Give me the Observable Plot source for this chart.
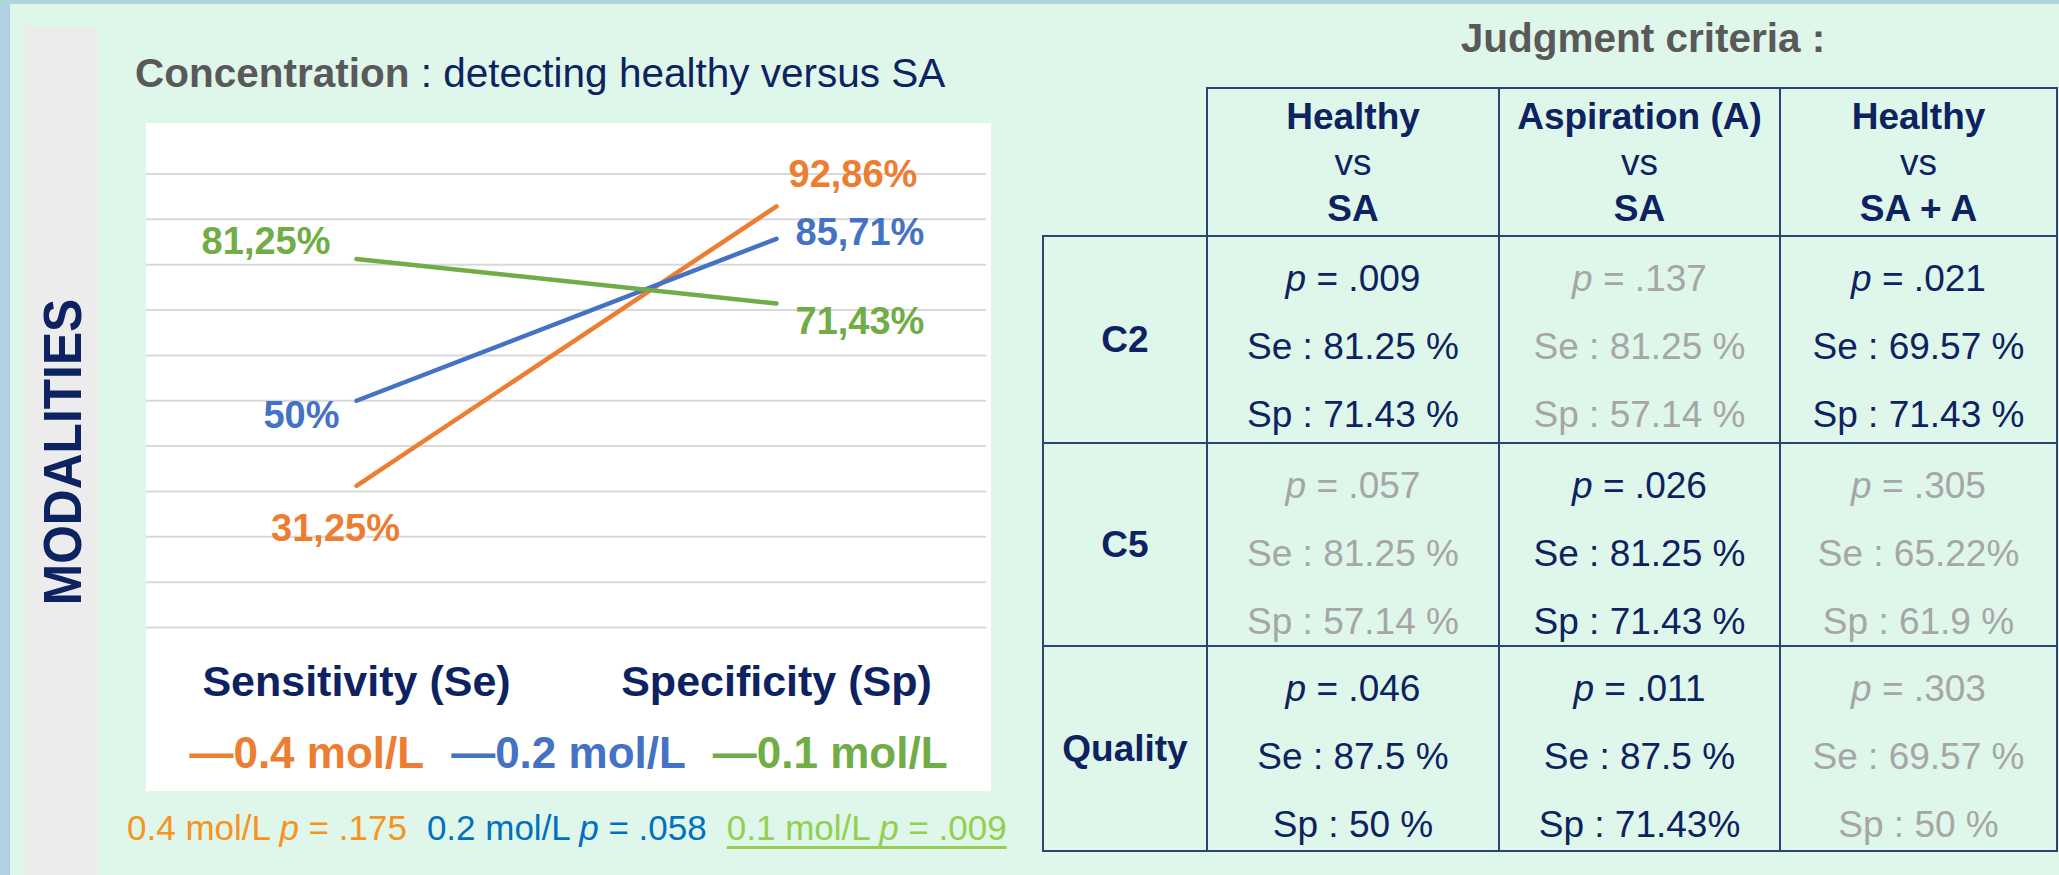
<!DOCTYPE html>
<html><head><meta charset="utf-8">
<script src="https://cdn.jsdelivr.net/npm/d3@7"></script>
<script src="https://cdn.jsdelivr.net/npm/@observablehq/plot@0.6"></script>
<style>
html,body{margin:0;padding:0;}
body{width:2059px;height:875px;background:#dff6ea;position:relative;overflow:hidden;font-family:"Liberation Sans",Arial,sans-serif;color:#0d2260;}
.abs{position:absolute;}
#topband{left:0;top:0;width:2059px;height:3px;background:#b0d0e4;border-bottom:1px solid #a6e3bd;}
#leftband{left:0;top:0;width:10px;height:875px;background:#b0d0e4;}
#greybar{left:25px;top:27px;width:73px;height:848px;background:#ececec;}
#modalities{left:62px;top:452px;font-size:54px;font-weight:bold;line-height:54px;white-space:nowrap;color:#0d2260;transform:translate(-50%,-50%) rotate(-90deg) scale(0.92,1);}
#title{left:135px;top:53px;font-size:40.5px;line-height:40px;white-space:nowrap;color:#0d2260;}
#title b{color:#595959;}
#whitebox{left:146px;top:123px;width:845px;height:668px;background:#fff;}
#chart{position:absolute;left:0;top:0;}
#chart g[aria-label="x-axis tick label"] text, #chart g[aria-label="x-axis"] text{font-size:43px;font-weight:bold;fill:#0d2260;}
#legend{position:absolute;left:0;top:605px;width:845px;display:flex;justify-content:center;gap:27px;font-size:44px;font-weight:bold;line-height:50px;white-space:nowrap;}
#pline{left:127px;top:810px;font-size:35px;line-height:35px;white-space:nowrap;display:flex;gap:20px;}
#pline .sig{text-decoration:underline;text-decoration-thickness:3px;text-underline-offset:6px;text-decoration-skip-ink:none;}
#judg{left:1343px;top:18px;width:600px;text-align:center;font-size:40.5px;line-height:40px;font-weight:bold;color:#595959;}
.cell{position:absolute;box-sizing:border-box;border:2.5px solid #2b4473;text-align:center;font-size:37px;}
.hdr{padding-top:5px;line-height:46px;}
.dat{padding-top:8px;line-height:68px;}
.lab{display:flex;align-items:center;justify-content:center;font-weight:bold;}
.grey{color:#a6a6a6;}
</style></head><body>
<div id="leftband" class="abs"></div>
<div id="topband" class="abs"></div>
<div id="greybar" class="abs"></div>
<div id="modalities" class="abs">MODALITIES</div>
<div id="title" class="abs"><b>Concentration</b> : detecting healthy versus SA</div>
<div id="whitebox" class="abs"><div id="chart"></div><div id="legend"></div></div>
<div id="pline" class="abs"></div>
<div id="judg" class="abs">Judgment criteria :</div>
<div id="table"></div>
<script>
// ---- chart data ----
const series = ["0.4 mol/L", "0.2 mol/L", "0.1 mol/L"];
const metrics = ["Sensitivity (Se)", "Specificity (Sp)"];
const sensitivity = [31.25, 50, 81.25];
const specificity = [92.86, 85.71, 71.43];
const seriesColors = ["#ED7D31", "#4472C4", "#70AD47"];

// ---- concentration p-values (below chart) ----
const concPValues = [".175", ".058", ".009"];
const concTextColors = ["#F7931E", "#0070C0", "#92D050"];

// ---- judgment criteria table ----
const criteriaTop = ["Healthy", "Aspiration (A)", "Healthy"];
const criteriaBottom = ["SA", "SA", "SA + A"];
const modalities = ["C2", "C5", "Quality"];
const pValues = [[".009", ".137", ".021"], [".057", ".026", ".305"], [".046", ".011", ".303"]];
const seValues = [["81.25 %", "81.25 %", "69.57 %"], ["81.25 %", "81.25 %", "65.22%"], ["87.5 %", "87.5 %", "69.57 %"]];
const spValues = [["71.43 %", "57.14 %", "71.43 %"], ["57.14 %", "71.43 %", "61.9 %"], ["50 %", "71.43%", "50 %"]];

// ---- chart ----
const rows = series.flatMap((s, i) => [
  {series: s, metric: metrics[0], value: sensitivity[i]},
  {series: s, metric: metrics[1], value: specificity[i]}
]);
const fmt = v => String(v).replace(".", ",") + "%";
// label placement styling (offsets in px), keyed by series|metric
const labelStyle = {
  "0.4 mol/L|Specificity (Sp)": {anchor: "start", dx: 12, dy: -32},
  "0.2 mol/L|Specificity (Sp)": {anchor: "start", dx: 19, dy: -6},
  "0.1 mol/L|Specificity (Sp)": {anchor: "start", dx: 19, dy: 18},
  "0.1 mol/L|Sensitivity (Se)": {anchor: "end", dx: -26, dy: -17},
  "0.2 mol/L|Sensitivity (Se)": {anchor: "end", dx: -17, dy: 15},
  "0.4 mol/L|Sensitivity (Se)": {anchor: "middle", dx: -21, dy: 43}
};
const labelMarks = rows.map(r => {
  const st = labelStyle[r.series + "|" + r.metric];
  return Plot.text([r], {x: "metric", y: "value", text: d => fmt(d.value), fill: "series",
    fontSize: 38, fontWeight: "bold", textAnchor: st.anchor, dx: st.dx, dy: st.dy});
});

const chart = Plot.plot({
  width: 845, height: 610,
  marginLeft: 0, marginRight: 5, marginTop: 50.5, marginBottom: 106,
  style: {background: "white", fontFamily: "'Liberation Sans', Arial, sans-serif", color: "#0d2260", overflow: "visible"},
  x: {type: "point", domain: metrics, padding: 0.5, tickSize: 0, tickPadding: 38, label: null},
  y: {domain: [0, 100], axis: null},
  color: {domain: series, range: seriesColors},
  marks: [
    Plot.ruleY(d3.ticks(0, 100, 10), {stroke: "#d9d9d9", strokeWidth: 2}),
    Plot.line(rows, {x: "metric", y: "value", z: "series", stroke: "series", strokeWidth: 4.5, strokeLinecap: "round"}),
    ...labelMarks
  ]
});
document.getElementById("chart").appendChild(chart);

// legend
const legend = document.getElementById("legend");
series.forEach((s, i) => {
  const sp = document.createElement("span");
  sp.style.color = seriesColors[i];
  sp.textContent = "\u2014" + s;
  legend.appendChild(sp);
});

// p-values line
const pline = document.getElementById("pline");
series.forEach((s, i) => {
  const sp = document.createElement("span");
  sp.style.color = concTextColors[i];
  if (parseFloat(concPValues[i]) < 0.05) sp.className = "sig";
  sp.innerHTML = s + " <i>p</i> = " + concPValues[i];
  pline.appendChild(sp);
});

// table layout
const colX = [1043, 1207, 1499, 1780, 2057];
const rowY = [88, 236, 443, 646, 851];
const bw = 1.25;
const table = document.getElementById("table");
function cell(x0, x1, y0, y1, cls, html) {
  const d = document.createElement("div");
  d.className = "cell " + cls;
  d.style.left = (x0 - bw) + "px";
  d.style.top = (y0 - bw) + "px";
  d.style.width = (x1 - x0 + 2 * bw) + "px";
  d.style.height = (y1 - y0 + 2 * bw) + "px";
  d.innerHTML = html;
  table.appendChild(d);
}
criteriaTop.forEach((c, j) => {
  cell(colX[j + 1], colX[j + 2], rowY[0], rowY[1], "hdr",
    `<div><b>${c}</b></div><div>vs</div><div><b>${criteriaBottom[j]}</b></div>`);
});
modalities.forEach((m, i) => {
  cell(colX[0], colX[1], rowY[i + 1], rowY[i + 2], "lab", m);
  criteriaTop.forEach((c, j) => {
    const sig = parseFloat(pValues[i][j]) < 0.05;
    cell(colX[j + 1], colX[j + 2], rowY[i + 1], rowY[i + 2], "dat" + (sig ? "" : " grey"),
      `<div><i>p</i> = ${pValues[i][j]}</div><div>Se : ${seValues[i][j]}</div><div>Sp : ${spValues[i][j]}</div>`);
  });
});
</script>
</body></html>
